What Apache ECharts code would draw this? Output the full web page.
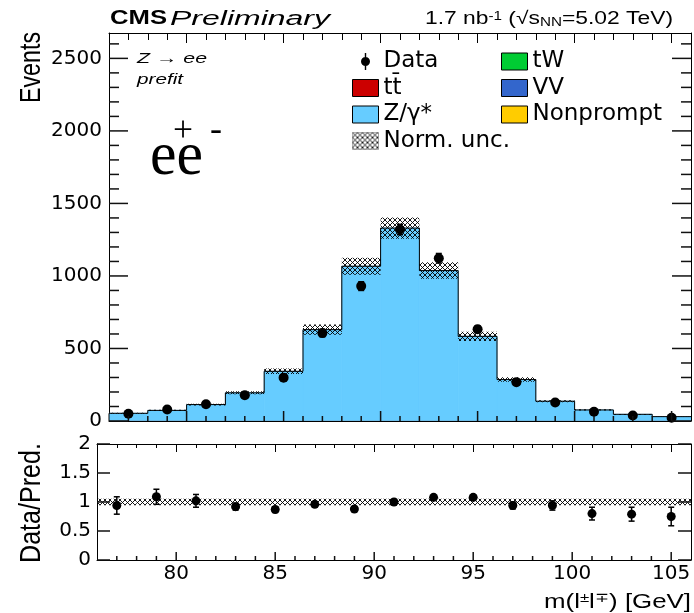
<!DOCTYPE html>
<html><head><meta charset="utf-8">
<script src="https://cdn.jsdelivr.net/npm/echarts@6/dist/echarts.min.js"></script>
<style>html,body{margin:0;padding:0;background:#fff}#c{width:694px;height:613px}</style>
</head><body><div id="c"></div>
<script>
// ---------------- data ----------------
const binEdges   = [76,78,80,82,84,86,88,90,92,94,96,98,100,102,104,106];
const binCenters = [77,79,81,83,85,87,89,91,93,95,97,99,101,103,105];
const nonprompt  = [0.3,0.3,0.3,0.4,0.4,0.5,0.5,0.5,0.5,0.4,0.4,0.3,0.3,0.3,0.3];
const vv         = [0.2,0.2,0.3,0.3,0.4,0.5,0.6,0.7,0.6,0.5,0.4,0.3,0.3,0.2,0.2];
const tw         = [0.1,0.1,0.1,0.1,0.1,0.1,0.1,0.1,0.1,0.1,0.1,0.1,0.1,0.1,0.1];
const ttbar      = [0.5,0.5,0.6,0.6,0.7,0.8,0.8,0.9,0.8,0.7,0.6,0.6,0.5,0.5,0.5];
const zgamma     = [52,72,112,193,341,628,1065,1328,1035,582,284,135,75,45,29];
const dataCounts = [50,79,116,177,299,606,930,1320,1122,632,268,128,64,38,23];
const dataErr    = [7,9,11,13,17,25,30,36,33,25,16,11,8,6,5];
const ratioVals  = [0.94,1.09,1.02,0.92,0.87,0.96,0.88,1.00,1.08,1.08,0.94,0.94,0.80,0.79,0.75];
const ratioErr   = [0.15,0.13,0.11,0.06,0.05,0.04,0.03,0.03,0.03,0.04,0.06,0.08,0.11,0.12,0.16];
const normUnc    = 0.055;
const xMajorTicks = [80,85,90,95,100,105];
const xMinorTicks = [77,78,79,81,82,83,84,86,87,88,89,91,92,93,94,96,97,98,99,101,102,103,104];
const yMainTicks  = [0,500,1000,1500,2000,2500];
const yMinorTicks = [100,200,300,400,600,700,800,900,1100,1200,1300,1400,1600,1700,1800,1900,2100,2200,2300,2400,2600];
const yRatioTicks = [0,0.5,1,1.5,2];

// ---------------- style helpers ----------------
const LS = '"Liberation Sans", Arial, Helvetica, sans-serif';
const DJ = '"DejaVu Sans", sans-serif';
const mctx = document.createElement('canvas').getContext('2d');
function measure(pieces){let w=0;for(const [t,f] of pieces){mctx.font=f;w+=mctx.measureText(t).width;}return w;}
function makeHatch(){
  const s=5,c=document.createElement('canvas');c.width=s;c.height=s;
  const g=c.getContext('2d');g.strokeStyle='rgba(0,0,0,0.9)';g.lineWidth=1;
  g.beginPath();g.moveTo(-1,-1);g.lineTo(s+1,s+1);g.moveTo(s+1,-1);g.lineTo(-1,s+1);g.stroke();
  return c;
}
const hatch = {image: makeHatch(), repeat: 'repeat'};

const comps = [
  {name:'Nonprompt', vals:nonprompt, color:'#ffcc00'},
  {name:'VV',        vals:vv,        color:'#3366cc'},
  {name:'tW',        vals:tw,        color:'#00cc33'},
  {name:'tt\u0304',  vals:ttbar,     color:'#cc0000'},
  {name:'Z/\u03b3*', vals:zgamma,    color:'#66ccff'}
];
const nb = binCenters.length;
const base = new Array(nb).fill(0);
const series = [];
function rectItem(params, api, fill, seam){
  const p0 = api.coord([api.value(0), api.value(3)]);
  const p1 = api.coord([api.value(1), api.value(2)]);
  const st = seam ? {fill:fill, stroke:fill, lineWidth:0.8} : {fill:fill};
  return {type:'rect', shape:{x:p0[0], y:p0[1], width:p1[0]-p0[0], height:p1[1]-p0[1]}, style:st};
}
for (const c of comps){
  const d = [];
  for (let i=0;i<nb;i++){ d.push([binEdges[i], binEdges[i+1], base[i], base[i]+c.vals[i]]); base[i]+=c.vals[i]; }
  series.push({name:c.name, type:'custom', xAxisIndex:0, yAxisIndex:0, clip:true,
    itemStyle:{color:c.color}, encode:{x:[0,1], y:[2,3]}, data:d,
    renderItem:(p,api)=>rectItem(p,api,c.color,true)});
}
const totals = base.slice();
const outline = [[binEdges[0],0]];
for (let i=0;i<nb;i++) outline.push([binEdges[i], totals[i]]);
outline.push([binEdges[nb], totals[nb-1]]);
series.push({name:'stack outline', type:'line', step:'end', xAxisIndex:0, yAxisIndex:0, symbol:'none', silent:true,
  lineStyle:{color:'#000', width:1}, data:outline});
series.push({name:'Norm. unc.', type:'custom', xAxisIndex:0, yAxisIndex:0, clip:true, itemStyle:{color:hatch},
  encode:{x:[0,1], y:[2,3]},
  data: totals.map((t,i)=>[binEdges[i], binEdges[i+1], t*(1-normUnc), t*(1+normUnc)]),
  renderItem:(p,api)=>rectItem(p,api,hatch,false)});
function errItem(params, api){
  const a = api.coord([api.value(0), api.value(1)]), b = api.coord([api.value(0), api.value(2)]);
  const cw = 3, st = {stroke:'#000', lineWidth:1.5};
  return {type:'group', children:[
    {type:'line', shape:{x1:a[0],y1:a[1],x2:b[0],y2:b[1]}, style:st},
    {type:'line', shape:{x1:a[0]-cw,y1:a[1],x2:a[0]+cw,y2:a[1]}, style:st},
    {type:'line', shape:{x1:b[0]-cw,y1:b[1],x2:b[0]+cw,y2:b[1]}, style:st}]};
}
series.push({name:'Data', type:'scatter', xAxisIndex:0, yAxisIndex:0, symbol:'circle', symbolSize:10, z:5,
  itemStyle:{color:'#000', opacity:1}, data: binCenters.map((x,i)=>[x, dataCounts[i]])});
series.push({name:'Data errors', type:'custom', xAxisIndex:0, yAxisIndex:0, z:4, clip:true,
  encode:{x:0, y:[1,2]}, data: binCenters.map((x,i)=>[x, dataCounts[i]-dataErr[i], dataCounts[i]+dataErr[i]]),
  renderItem: errItem});
series.push({name:'Norm. unc. ratio', type:'custom', xAxisIndex:2, yAxisIndex:2, clip:true, itemStyle:{color:hatch},
  encode:{x:[0,1], y:[2,3]},
  data: binCenters.map((x,i)=>[binEdges[i], binEdges[i+1], 1-normUnc, 1+normUnc]),
  renderItem:(p,api)=>rectItem(p,api,hatch,false)});
series.push({name:'Data ratio errors', type:'custom', xAxisIndex:2, yAxisIndex:2, z:4, clip:true,
  encode:{x:0, y:[1,2]}, data: binCenters.map((x,i)=>[x, ratioVals[i]-ratioErr[i], ratioVals[i]+ratioErr[i]]),
  renderItem: errItem});
series.push({name:'Data ratio', type:'scatter', xAxisIndex:2, yAxisIndex:2, symbol:'circle', symbolSize:9, z:5,
  itemStyle:{color:'#000', opacity:1}, data: binCenters.map((x,i)=>[x, ratioVals[i]])});

// ROOT-style inward tick marks drawn through the axes' scales
const tickSt = {stroke:'#111', lineWidth:1.5};
function yTickItem(p, api){
  const v = api.value(0), len = api.value(1);
  const a = api.coord([76, v]), b = api.coord([106, v]);
  return {type:'group', children:[
    {type:'line', shape:{x1:a[0], y1:a[1], x2:a[0]+len, y2:a[1]}, style:tickSt},
    {type:'line', shape:{x1:b[0]-len, y1:b[1], x2:b[0], y2:b[1]}, style:tickSt}]};
}
function xTickItem(p, api){
  const v = api.value(0), len = api.value(1);
  const a = api.coord([v, 0]);
  return {type:'line', shape:{x1:a[0], y1:a[1], x2:a[0], y2:a[1]-len}, style:tickSt};
}
series.push({name:'main y ticks', type:'custom', xAxisIndex:0, yAxisIndex:0, z:10, clip:false, silent:true,
  encode:{y:0}, data: yMainTicks.map(v=>[v,19]).concat(yMinorTicks.map(v=>[v,10])), renderItem: yTickItem});
series.push({name:'main x ticks', type:'custom', xAxisIndex:0, yAxisIndex:0, z:10, clip:false, silent:true,
  encode:{x:0}, data: xMinorTicks.map(v=>[v,5]).concat(xMajorTicks.map(v=>[v,10])), renderItem: xTickItem});
series.push({name:'ratio y ticks', type:'custom', xAxisIndex:2, yAxisIndex:2, z:10, clip:false, silent:true,
  encode:{y:0}, data: yRatioTicks.map(v=>[v,13]), renderItem: yTickItem});
series.push({name:'ratio x ticks', type:'custom', xAxisIndex:2, yAxisIndex:2, z:10, clip:false, silent:true,
  encode:{x:0}, data: xMinorTicks.map(v=>[v,4]).concat(xMajorTicks.map(v=>[v,8])), renderItem: xTickItem});

// ---------------- grids & axes ----------------
const gMain  = () => ({left:109, right:3, top:33, bottom:192});
const gRatio = () => ({left:97, right:3, top:444, bottom:53});
const grids = [gMain(), gRatio(), gMain(), gRatio()];
const axLine = () => ({show:true, onZero:false, lineStyle:{color:'#000', width:1}});
const noLine = () => ({show:false, onZero:false});
const tk = (len, extra) => Object.assign({show:true, inside:true, length:len, lineStyle:{color:'#000', width:1}}, extra||{});
const xBase = () => ({type:'value', min:76, max:106, splitLine:{show:false}, axisLabel:{show:false}});
const xAxes = [
  Object.assign(xBase(), {gridIndex:0, position:'bottom', interval:1, axisLine:axLine(), axisTick:{show:false}}),
  Object.assign(xBase(), {gridIndex:0, position:'top', interval:1, axisLine:axLine(), axisTick:tk(7)}),
  Object.assign(xBase(), {gridIndex:1, position:'bottom', interval:1, axisLine:axLine(), axisTick:{show:false},
     axisLabel:{show:true, customValues:xMajorTicks, fontFamily:DJ, fontSize:20, color:'#000', margin:4}}),
  Object.assign(xBase(), {gridIndex:1, position:'top', interval:1, axisLine:axLine(), axisTick:tk(4)}),
  Object.assign(xBase(), {gridIndex:2, position:'bottom', axisLine:noLine(), axisTick:{show:false}}),
  Object.assign(xBase(), {gridIndex:2, position:'top', axisLine:noLine(), axisTick:tk(10,{customValues:xMajorTicks})}),
  Object.assign(xBase(), {gridIndex:3, position:'bottom', axisLine:noLine(), axisTick:{show:false}}),
  Object.assign(xBase(), {gridIndex:3, position:'top', axisLine:noLine(), axisTick:tk(8,{customValues:xMajorTicks})})
];
const yMainBase = () => ({type:'value', min:0, max:2675, splitLine:{show:false}, axisLabel:{show:false}, axisTick:{show:false}});
const yRatBase  = () => ({type:'value', min:0, max:2, interval:0.5, splitLine:{show:false}, axisLabel:{show:false}, axisTick:{show:false}});
const yAxes = [
  Object.assign(yMainBase(), {gridIndex:0, position:'left', interval:500, axisLine:axLine(),
     axisLabel:{show:true, customValues:yMainTicks, formatter:(v)=>String(v), fontFamily:DJ, fontSize:20, color:'#000', margin:7}}),
  Object.assign(yMainBase(), {gridIndex:0, position:'right', interval:500, axisLine:axLine()}),
  Object.assign(yRatBase(), {gridIndex:1, position:'left', axisLine:axLine(),
     axisLabel:{show:true, customValues:yRatioTicks, formatter:(v)=>String(v), fontFamily:DJ, fontSize:20, color:'#000', margin:6}}),
  Object.assign(yRatBase(), {gridIndex:1, position:'right', axisLine:axLine()}),
  Object.assign(yMainBase(), {gridIndex:2, position:'left', interval:500, axisLine:noLine()}),
  Object.assign(yMainBase(), {gridIndex:2, position:'right', interval:500, axisLine:noLine()}),
  Object.assign(yRatBase(), {gridIndex:3, position:'left', axisLine:noLine()}),
  Object.assign(yRatBase(), {gridIndex:3, position:'right', axisLine:noLine()})
];

// ---------------- texts ----------------
function fitText(text, font, x, y, w, align, extra){
  const m = measure([[text, font]]);
  return Object.assign({type:'text', x:x, y:y, scaleX:w/m, silent:true,
    style:{text:text, font:font, fill:'#000', align:align||'left', verticalAlign:'middle'}}, extra||{});
}
const graphics = [];
graphics.push(fitText('CMS', `bold 21px ${LS}`, 110, 18, 57));
graphics.push(fitText('Preliminary', `italic 20px ${LS}`, 170, 19, 160));
const lumiW = measure([['1.7 nb', `18px ${LS}`], ['-1', `12px ${LS}`], [' (\u221a', `18px ${LS}`], ['s', `18px ${LS}`], ['NN', `12px ${LS}`], ['=5.02 TeV)', `18px ${LS}`]]);
graphics.push({type:'text', x:673, y:19.5, scaleX:248/lumiW, silent:true,
  style:{text:'1.7 nb{sup|-1} (\u221a{o|s}{sub|NN}=5.02 TeV)', font:`18px ${LS}`, fill:'#000', align:'right', verticalAlign:'middle',
    rich:{sup:{fontSize:12, fontFamily:LS, verticalAlign:'top', fill:'#000'}, sub:{fontSize:12, fontFamily:LS, verticalAlign:'bottom', fill:'#000'},
          o:{fontSize:18, fontFamily:LS, fill:'#000'}}}});
graphics.push(fitText('Z \u2192 ee', `italic 15px ${LS}`, 137, 59, 70));
graphics.push(fitText('prefit', `italic 15px ${LS}`, 137, 80, 46));
graphics.push(fitText('ee', `62px "Liberation Serif", serif`, 150, 158, 53));
graphics.push(fitText('+', `36px "Liberation Serif", serif`, 173, 132, 20));
graphics.push(fitText('-', `36px "Liberation Serif", serif`, 210, 131, 12));
(function(){
  const f = `23px ${LS}`;
  const mE = measure([['Events', f]]);
  graphics.push({type:'text', x:32, y:32, rotation:Math.PI/2, scaleX:71/mE, scaleY:1.3, silent:true,
    style:{text:'Events', font:f, fill:'#000', align:'right', verticalAlign:'middle'}});
  const mD = measure([['Data/Pred.', f]]);
  graphics.push({type:'text', x:32, y:503, rotation:Math.PI/2, scaleX:120/mD, scaleY:1.3, silent:true,
    style:{text:'Data/Pred.', font:f, fill:'#000', align:'center', verticalAlign:'middle'}});
  const fx = `20px ${LS}`;
  const mX = measure([['m(l', fx], ['\u00b1', `13px ${LS}`], ['l', fx], ['\u2213', `13px ${LS}`], [') [GeV]', fx]]);
  graphics.push({type:'text', x:691, y:602, scaleX:147/mX, silent:true,
    style:{text:'m(l{s|\u00b1}l{s|\u2213}) [GeV]', font:fx, fill:'#000', align:'right', verticalAlign:'middle',
      rich:{s:{fontSize:13, fontFamily:LS, verticalAlign:'top', fill:'#000'}}}});
})();

// ---------------- legend ----------------
const dataIcon = 'path://M12.3,0H13.7V17H12.3Z M8.5,8.5A4.5,4.5,0,1,1,17.5,8.5A4.5,4.5,0,1,1,8.5,8.5Z';
const boxStyle = () => ({borderColor:'#000', borderWidth:1});
const legText = () => ({fontFamily:DJ, fontSize:23, color:'#000'});
const legends = [
  {left:347, top:45, orient:'vertical', itemWidth:26, itemHeight:17, itemGap:3.5, selectedMode:false, textStyle:legText(),
   data:[{name:'Data', icon:dataIcon, itemStyle:{color:'#000'}},
         {name:'tt\u0304', icon:'rect', itemStyle:Object.assign({color:'#cc0000'}, boxStyle())},
         {name:'Z/\u03b3*', icon:'rect', itemStyle:Object.assign({color:'#66ccff'}, boxStyle())},
         {name:'Norm. unc.', icon:'rect', itemStyle:{color:hatch, borderColor:'#666', borderWidth:0.5}}]},
  {left:496, top:45, orient:'vertical', itemWidth:26, itemHeight:17, itemGap:3.5, selectedMode:false, textStyle:legText(),
   data:[{name:'tW', icon:'rect', itemStyle:Object.assign({color:'#00cc33'}, boxStyle())},
         {name:'VV', icon:'rect', itemStyle:Object.assign({color:'#3366cc'}, boxStyle())},
         {name:'Nonprompt', icon:'rect', itemStyle:Object.assign({color:'#ffcc00'}, boxStyle())}]}
];

const chart = echarts.init(document.getElementById('c'), null, {renderer:'canvas'});
chart.setOption({
  animation:false,
  backgroundColor:'#fff',
  grid:grids, xAxis:xAxes, yAxis:yAxes, legend:legends, series:series, graphic:graphics
});
</script></body></html>
